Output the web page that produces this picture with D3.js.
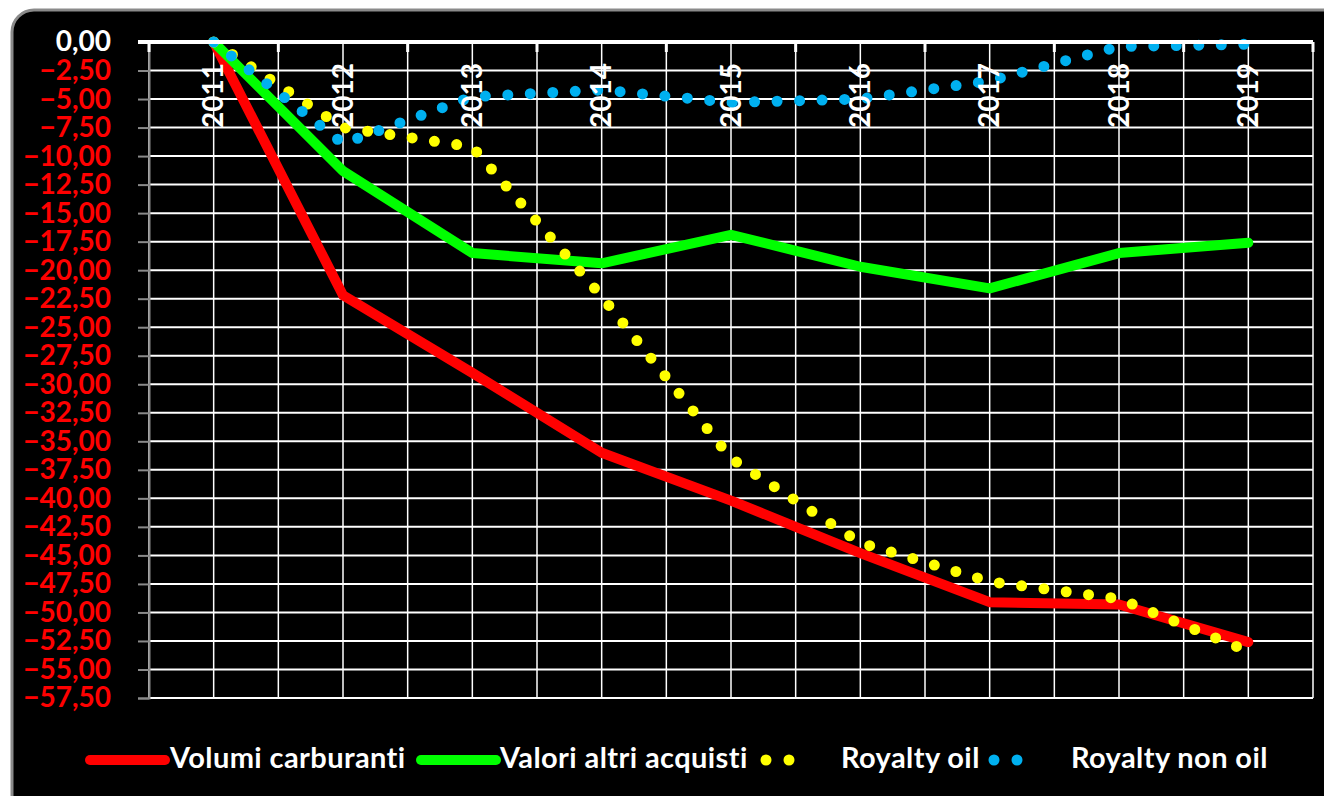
<!DOCTYPE html>
<html>
<head>
<meta charset="utf-8">
<script src="https://cdn.jsdelivr.net/npm/d3@7"></script>
<style>
	body { margin: 0; background: #fff; }
	svg { display: block; font-family: Lato, "Open Sans", sans-serif; font-weight: bold; }
</style>
</head>
<body>
<div class="chart"></div>
<script>
var years = ['2011', '2012', '2013', '2014', '2015', '2016', '2017', '2018', '2019'];

var volumiCarburanti = [0, -22.2, -29.0, -36.0, -40.2, -44.8, -49.1, -49.3, -52.6];
var valoriAltriAcquisti = [0, -11.3, -18.5, -19.4, -16.9, -19.7, -21.6, -18.5, -17.6];
var royaltyOil = [0, -7.5, -9.2, -22.3, -36.5, -43.9, -47.3, -48.8, -53.4];
var royaltyNonOil = [0, -8.9, -4.8, -4.2, -5.3, -5.0, -3.4, -0.4, -0.2];

var yTicks = [0, -2.5, -5, -7.5, -10, -12.5, -15, -17.5, -20, -22.5, -25, -27.5,
	-30, -32.5, -35, -37.5, -40, -42.5, -45, -47.5, -50, -52.5, -55, -57.5];

var series = [
	{name: 'Volumi carburanti', values: volumiCarburanti, color: '#ff0000', dotted: false},
	{name: 'Valori altri acquisti', values: valoriAltriAcquisti, color: '#00ff00', dotted: false},
	{name: 'Royalty oil', values: royaltyOil, color: '#ffff00', dotted: true},
	{name: 'Royalty non oil', values: royaltyNonOil, color: '#00b0f0', dotted: true}
];

var W = 1324, H = 796;
var margin = {top: 42, right: 11, bottom: 98, left: 149};
var width = W - margin.left - margin.right;
var height = H - margin.top - margin.bottom;

var root = d3.select('.chart')
	.append('svg')
		.attr('width', W)
		.attr('height', H);

// black rounded frame
root.append('rect')
	.attr('x', 12)
	.attr('y', 10)
	.attr('width', 1360)
	.attr('height', 810)
	.attr('rx', 22)
	.attr('fill', '#000')
	.attr('stroke', '#8a8a8a')
	.attr('stroke-width', 3);

var svg = root.append('g')
	.attr('transform', `translate(${margin.left}, ${margin.top})`);

var xScale = d3.scaleBand()
	.domain(years)
	.range([0, width]);

var yScale = d3.scaleLinear()
	.domain([0, -57.5])
	.range([0, height]);

var half = xScale.bandwidth() / 2;

// gridlines
svg.append('g')
	.selectAll('line')
	.data(yTicks)
	.enter()
	.append('line')
		.attr('x1', 0)
		.attr('x2', width)
		.attr('y1', d => yScale(d))
		.attr('y2', d => yScale(d))
		.attr('stroke', '#fff')
		.attr('stroke-width', 2);

var vLines = [];
years.forEach(y => { vLines.push(xScale(y)); vLines.push(xScale(y) + half); });
vLines.push(width);

svg.append('g')
	.selectAll('line')
	.data(vLines)
	.enter()
	.append('line')
		.attr('x1', d => d)
		.attr('x2', d => d)
		.attr('y1', 0)
		.attr('y2', height)
		.attr('stroke', '#fff')
		.attr('stroke-width', 1.5);

// y axis
var yAxis = d3.axisLeft(yScale)
	.tickValues(yTicks)
	.tickSize(11)
	.tickPadding(27)
	.tickFormat(d => d3.format('.2f')(d).replace('.', ','));

var gy = svg.append('g').call(yAxis);
gy.select('.domain').attr('stroke', '#8a8a8a').attr('stroke-width', 2);
gy.selectAll('.tick line').attr('stroke', '#8a8a8a').attr('stroke-width', 2);
gy.selectAll('.tick text')
	.attr('font-family', 'Lato, "Open Sans", sans-serif')
	.attr('font-size', 28)
	.attr('font-weight', 'bold')
	.attr('fill', d => d === 0 ? '#fff' : '#ff0000');

// series
var line = d3.line()
	.x((d, i) => xScale(years[i]) + half)
	.y(d => yScale(d));

svg.append('g')
	.selectAll('path')
	.data(series)
	.enter()
	.append('path')
		.attr('d', d => line(d.values))
		.attr('fill', 'none')
		.attr('stroke', d => d.color)
		.attr('stroke-width', d => d.dotted ? 11 : 10)
		.attr('stroke-linecap', 'round')
		.attr('stroke-linejoin', 'round')
		.attr('stroke-dasharray', d => d.dotted ? '0 22.5' : null);

// category axis on top
var xAxis = d3.axisBottom(xScale)
	.tickSize(0);

var gx = svg.append('g').call(xAxis);
gx.select('.domain')
	.attr('stroke', '#fff')
	.attr('stroke-width', 4)
	.attr('d', `M-11,0H${width}`);
gx.selectAll('.tick text')
	.attr('font-family', 'Lato, "Open Sans", sans-serif')
	.attr('font-size', 28)
	.attr('font-weight', 'bold')
	.attr('fill', '#fff')
	.attr('text-anchor', 'start')
	.attr('transform', 'rotate(-90)')
	.attr('x', -86)
	.attr('y', 0)
	.attr('dy', '0.35em');

var edges = years.map(y => xScale(y)).concat([width]);
gx.append('g')
	.selectAll('line')
	.data(edges)
	.enter()
	.append('line')
		.attr('x1', d => d)
		.attr('x2', d => d)
		.attr('y1', 0)
		.attr('y2', 10)
		.attr('stroke', '#fff')
		.attr('stroke-width', 3);

// legend
var legendX = [
	{line: [90, 165], text: 170},
	{line: [421, 496], text: 500},
	{line: [766, 812], text: 841},
	{line: [994, 1040], text: 1071}
];

var legend = root.append('g')
	.selectAll('g')
	.data(series)
	.enter()
	.append('g');

legend.append('line')
	.attr('x1', (d, i) => legendX[i].line[0])
	.attr('x2', (d, i) => legendX[i].line[1])
	.attr('y1', 760)
	.attr('y2', 760)
	.attr('stroke', d => d.color)
	.attr('stroke-width', d => d.dotted ? 11 : 10)
	.attr('stroke-linecap', 'round')
	.attr('stroke-dasharray', d => d.dotted ? '0 23' : null);

legend.append('text')
	.attr('x', (d, i) => legendX[i].text)
	.attr('y', 768)
	.attr('font-size', 29)
	.attr('letter-spacing', 0.4)
	.attr('fill', '#fff')
	.text(d => d.name);
</script>
</body>
</html>
